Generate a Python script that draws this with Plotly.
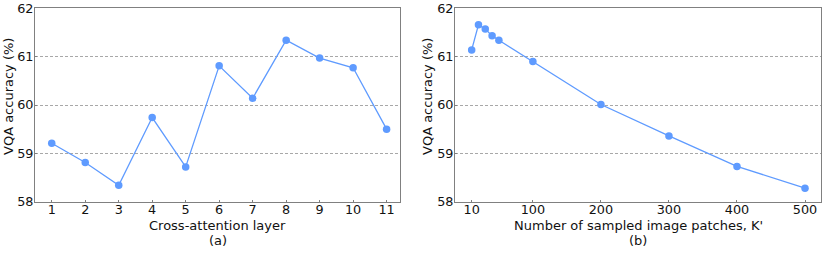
import plotly.graph_objects as go

layers = [1, 2, 3, 4, 5, 6, 7, 8, 9, 10, 11]
acc_layers = [59.21, 58.81, 58.34, 59.74, 58.72, 60.81, 60.14, 61.34, 60.97, 60.77, 59.50]

patches = [10, 20, 30, 40, 50, 100, 200, 300, 400, 500]
acc_patches = [61.14, 61.66, 61.57, 61.43, 61.34, 60.90, 60.01, 59.36, 58.73, 58.28]

xticks_b = [10, 100, 200, 300, 400, 500]
yticks = [58, 59, 60, 61, 62]

W, H = 830, 257
blue = "#5f9bff"
font = "DejaVu Sans"
txt = "#111111"

fig = go.Figure()
fig.add_trace(go.Scatter(x=layers, y=acc_layers, mode="lines+markers",
                         line=dict(color=blue, width=1.3),
                         marker=dict(color=blue, size=7.5), xaxis="x", yaxis="y"))
fig.add_trace(go.Scatter(x=patches, y=acc_patches, mode="lines+markers",
                         line=dict(color=blue, width=1.3),
                         marker=dict(color=blue, size=7.5), xaxis="x2", yaxis="y2"))

ydom = [1 - 201.7 / H, 1 - 8.3 / H]
axis_common = dict(showline=True, mirror=True, linecolor="#808080", linewidth=1,
                   ticks="inside", ticklen=2, tickcolor="#808080",
                   tickfont=dict(family=font, size=12.8, color=txt),
                   zeroline=False, automargin=False)
xstyle = dict(ticklabelstandoff=-4, showgrid=False, **axis_common)
ystyle = dict(range=[58, 62], tickvals=yticks, showgrid=True, gridcolor="#a8a8a8",
              griddash="3px,2px", gridwidth=0.8, ticklabelstandoff=-2, **axis_common)

fig.update_layout(
    width=W, height=H, autosize=False, margin=dict(l=0, r=0, t=0, b=0, autoexpand=False),
    plot_bgcolor="white", paper_bgcolor="white", showlegend=False,
    font=dict(family=font, color=txt),
    xaxis=dict(domain=[35 / W, 400 / W], range=[0.5, 11.4], tickvals=layers,
               anchor="y", **xstyle),
    yaxis=dict(domain=ydom, anchor="x", **ystyle),
    xaxis2=dict(domain=[455 / W, 821 / W], range=[-14.5, 523.5], tickvals=xticks_b,
                anchor="y2", **xstyle),
    yaxis2=dict(domain=ydom, anchor="x2", **ystyle),
)

ann = [
    dict(text="Cross-attention layer", x=217.5 / W, y=1 - 225 / H),
    dict(text="(a)", x=217.5 / W, y=1 - 240 / H),
    dict(text="Number of sampled image patches, K'", x=638 / W, y=1 - 225 / H),
    dict(text="(b)", x=638 / W, y=1 - 240 / H),
]
for a in ann:
    fig.add_annotation(xref="paper", yref="paper", showarrow=False,
                       xanchor="center", yanchor="middle",
                       font=dict(family=font, size=13, color=txt), **a)
for xpos in [8, 427]:
    fig.add_annotation(xref="paper", yref="paper", showarrow=False, textangle=-90,
                       x=xpos / W, y=1 - 97 / H, xanchor="center", yanchor="middle",
                       text="VQA accuracy (%)",
                       font=dict(family=font, size=13, color=txt))

fig.write_html(
    "out.html",
    config={"displayModeBar": False, "responsive": False},
    post_script=("document.documentElement.style.margin='0';"
                 "document.body.style.margin='0';"
                 "document.documentElement.style.overflow='hidden';"
                 "document.body.style.overflow='hidden';"),
)
